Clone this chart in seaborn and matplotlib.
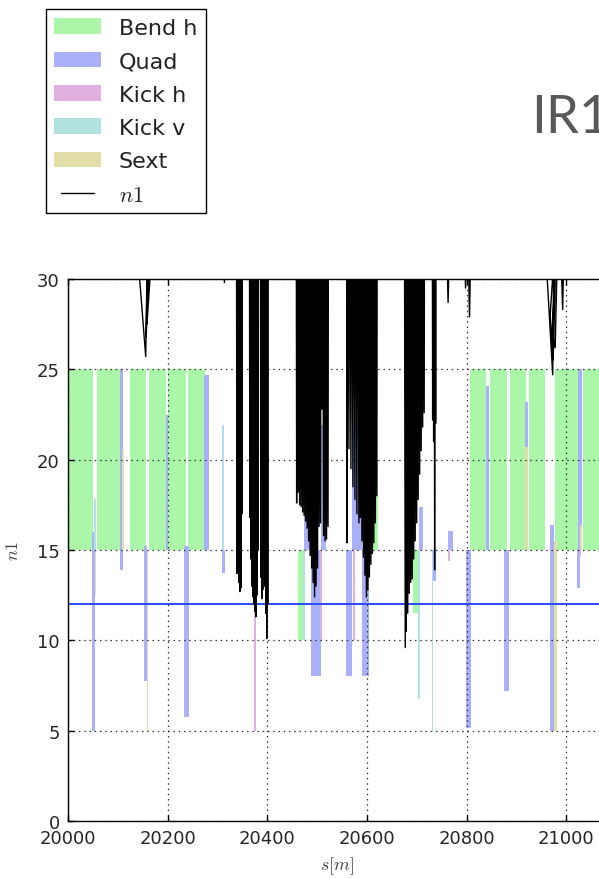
import matplotlib
matplotlib.use("Agg")
import matplotlib.pyplot as plt
import seaborn as sns
import pandas as pd

# ---------------------------------------------------------------- element data
# Each element type: start s [m], end s [m], lower and upper n1 extent.
bend_s0 = [20000, 20058, 20124, 20162, 20201, 20241, 20378, 20461, 20612, 20692,
           20806, 20847, 20887, 20925, 20977, 21033]
bend_s1 = [20050, 20104, 20156, 20197, 20237, 20275, 20384, 20471, 20622, 20702,
           20840, 20881, 20919, 20957, 21027, 21095]
bend_lo = [15, 15, 15, 15, 15, 15, 15, 10, 15, 11.5, 15, 15, 15, 15, 15, 15]
bend_hi = [25, 25, 25, 25, 25, 25, 18.5, 15, 20, 15, 25, 25, 25, 25, 25, 25]

quad_s0 = [19996, 20048, 20104, 20153, 20196, 20233, 20273, 20310, 20343, 20474,
           20488, 20508, 20558, 20570, 20591, 20704, 20730, 20762, 20798, 20840,
           20876, 20918, 20968, 21024, 21022]
quad_s1 = [20002, 20055, 20110, 20158, 20200, 20242, 20283, 20316, 20347, 20487,
           20508, 20518, 20570, 20590, 20604, 20712, 20738, 20772, 20808, 20846,
           20886, 20924, 20976, 21032, 21027]
quad_lo = [13.4, 5, 13.9, 7.75, 15, 5.75, 15, 13.7, 15, 15,
           8, 15, 8, 15, 8, 15, 13.3, 15, 5.15, 15,
           7.2, 15, 5, 15, 12.9]
quad_hi = [25, 16, 25, 15.2, 22.5, 15.2, 24.7, 15, 16.5, 17.3,
           15, 21.9, 15, 21.9, 15, 17.4, 15, 16.05, 15, 24.1,
           15, 23.2, 16.4, 25, 15]

kickh_s0 = [20374, 20505, 20573, 20762, 21026]
kickh_s1 = [20378, 20509, 20577, 20766, 21030]
kickh_lo = [5, 10, 10, 14.4, 14.6]
kickh_hi = [15, 15, 15, 15, 15]

kickv_s0 = [20052, 20309, 20472, 20702, 20730]
kickv_s1 = [20056, 20313, 20476, 20707, 20733]
kickv_lo = [15, 15, 10, 6.75, 5]
kickv_hi = [17.8, 21.9, 15, 15, 15]

sext_s0 = [20001, 20054, 20108, 20158, 20918, 20976, 21027]
sext_s1 = [20003, 20057, 20112, 20161, 20923, 20981, 21031]
sext_lo = [13.5, 12.5, 15, 5, 15, 5, 15]
sext_hi = [16.5, 15, 20.6, 15, 20.7, 15.5, 16.4]

# ------------------------------------------------------------- n1 along s
n1_s = [
    19990,
    # dip near 20156
    20141, 20156, 20159, 20157, 20162, 20158.5, 20167,
    # small notch
    20312, 20314, 20316,
    # triplet left side
    20338, 20339, 20340, 20341, 20342, 20343, 20344, 20345, 20346, 20347, 20348, 20349, 20350,
    20364, 20365, 20366, 20367, 20368, 20369, 20370, 20371, 20372, 20373, 20374, 20375,
    20376, 20377, 20378, 20379, 20380, 20381, 20382,
    20386, 20387, 20388, 20389, 20390, 20391, 20392, 20393, 20394, 20395, 20396, 20397,
    20398, 20399, 20400, 20401, 20402,
    # first IP-side cluster
    20458, 20459, 20460, 20462, 20463, 20465, 20466, 20468, 20469, 20471, 20472, 20474,
    20475, 20477, 20478, 20480, 20481, 20483, 20484, 20486, 20487, 20489, 20490, 20492,
    20493, 20495, 20496, 20498, 20499, 20501, 20502, 20504, 20505, 20507, 20508, 20510,
    20511, 20513, 20514, 20516, 20517, 20519, 20520, 20522, 20523,
    # second cluster
    20559, 20560, 20561, 20564, 20565, 20568, 20569, 20572, 20573, 20576, 20577, 20580,
    20581, 20584, 20585, 20587, 20588, 20590, 20591, 20593, 20594, 20596, 20597, 20599,
    20600, 20602, 20603, 20605, 20606, 20608, 20609, 20611, 20612, 20614, 20615, 20617,
    20618, 20620, 20621,
    # third cluster
    20675, 20677, 20678, 20679, 20680, 20682, 20683, 20685, 20686, 20688, 20689, 20691,
    20692, 20694, 20695, 20697, 20698, 20700, 20701, 20703, 20704, 20706, 20707, 20709,
    20710, 20712, 20713, 20715, 20716,
    20731, 20732, 20733, 20734, 20735, 20736, 20737, 20738, 20739,
    # isolated notches
    20761, 20763, 20765,
    20797, 20798, 20800, 20804, 20806, 20808,
    # dip near 20973
    20960, 20973, 20975, 20968, 20974, 20979, 20972, 20978, 20982,
    20990, 20993, 20995,
    21100,
]
n1_v = [
    40,
    31, 25.7, 31, 26.8, 31, 27.5, 31,
    31, 29.8, 31,
    40, 13.7, 40, 14.0, 40, 13.2, 40, 12.7, 40, 12.9, 40, 17.0, 40,
    40, 16.8, 40, 14.5, 40, 13.0, 40, 12.4, 40, 12.0, 40, 11.6,
    40, 11.3, 40, 12.5, 40, 15.0, 40,
    40, 13.5, 40, 12.3, 40, 12.8, 40, 14.6, 40, 13.0, 40, 11.5,
    40, 10.1, 40, 12.0, 40,
    40, 17.6, 40, 18.2, 40, 17.5, 40, 17.4, 40, 17.1, 40, 16.9,
    40, 16.6, 40, 16.2, 40, 15.5, 40, 14.7, 40, 14.0, 40, 13.2,
    40, 12.4, 40, 13.0, 40, 14.0, 40, 16.3, 40, 16.5, 40, 22.8,
    40, 15.8, 40, 15.5, 40, 15.6, 40, 16.3, 40,
    40, 15.4, 40, 20.6, 40, 19.5, 40, 18.5, 40, 17.8, 40, 17.0,
    40, 16.5, 40, 16.8, 40, 15.5, 40, 14.6, 40, 13.6, 40, 12.4,
    40, 12.8, 40, 13.5, 40, 14.2, 40, 14.8, 40, 15.4, 40, 16.5,
    40, 18.0, 40,
    40, 9.6, 40, 10.5, 40, 11.5, 40, 12.6, 40, 13.2, 40, 13.4,
    40, 14.5, 40, 15.5, 40, 16.5, 40, 17.8, 40, 19.2, 40, 20.5,
    40, 21.8, 40, 22.6, 40,
    40, 22.2, 40, 21.0, 40, 13.9, 40, 22.0, 40,
    31, 28.7, 31,
    31, 29.5, 31, 31, 27.9, 31,
    31, 24.7, 31, 28.0, 25.5, 31, 27.0, 26.2, 31,
    31, 28.3, 31,
    40,
]

n1_limit = 12.0
title_text = "IR1"

# ------------------------------------------------------------------ styling
sns.set_style("ticks")
plt.rcParams.update({
    "font.family": ["DejaVu Sans"],
    "mathtext.fontset": "cm",
    "xtick.direction": "in",
    "ytick.direction": "in",
    "xtick.top": True,
    "ytick.right": True,
    "axes.edgecolor": "black",
    "axes.linewidth": 1.0,
    "axes.axisbelow": "line",
})

fig = plt.figure(figsize=(5.99, 8.79), dpi=100)
ax = fig.add_axes([68 / 599, 57 / 879, 538 / 599, 542 / 879])

colors = {
    "Bend h": "#aaf7aa",
    "Quad": "#aab0fa",
    "Kick h": "#e2b0e0",
    "Kick v": "#b0e2e0",
    "Sext": "#e2deaa",
}

groups = [
    ("Bend h", bend_s0, bend_s1, bend_lo, bend_hi),
    ("Quad", quad_s0, quad_s1, quad_lo, quad_hi),
    ("Kick h", kickh_s0, kickh_s1, kickh_lo, kickh_hi),
    ("Kick v", kickv_s0, kickv_s1, kickv_lo, kickv_hi),
    ("Sext", sext_s0, sext_s1, sext_lo, sext_hi),
]

handles = []
for name, s0, s1, lo, hi in groups:
    df = pd.DataFrame({"s0": s0, "s1": s1, "lo": lo, "hi": hi})
    bars = ax.bar(df["s0"], df["hi"] - df["lo"], width=df["s1"] - df["s0"],
                  bottom=df["lo"], align="edge", color=colors[name],
                  linewidth=0, label=name, zorder=1)
    handles.append(bars)

ax.axhline(n1_limit, color="#2a4bff", lw=1.4, zorder=2)

n1_df = pd.DataFrame({"s": n1_s, "n1": n1_v})
sns.lineplot(data=n1_df, x="s", y="n1", sort=False, estimator=None,
             color="black", lw=1.0, ax=ax, label="$n1$", zorder=3)
line_handle = ax.get_lines()[-1]
ax.get_legend().remove()

ax.set_xlim(20000, 21080)
ax.set_ylim(0, 30)
ax.set_xticks(range(20000, 21001, 200))
ax.set_yticks(range(0, 31, 5))
ax.tick_params(labelsize=13, pad=6, length=4, width=1, color="black")
ax.grid(True, color="#333333", linestyle=(0, (1.2, 3.0)), linewidth=0.9)
ax.set_xlabel("$s[m]$", fontsize=13, color="#444444")
ax.set_ylabel("$n1$", fontsize=13, color="#444444")
ax.xaxis.set_label_coords(0.5, -0.062)
ax.yaxis.set_label_coords(-0.085, 0.5)
for sp in ax.spines.values():
    sp.set_visible(True)
    sp.set_color("black")

leg = fig.legend(handles + [line_handle],
                 ["Bend h", "Quad", "Kick h", "Kick v", "Sext", "$n1$"],
                 loc="upper left", bbox_to_anchor=(45.5 / 599, 1 - 10 / 879),
                 bbox_transform=fig.transFigure, borderaxespad=0,
                 fontsize=16, handlelength=2.1, labelspacing=0.6, numpoints=2,
                 fancybox=False, framealpha=1, edgecolor="black")
leg.get_frame().set_linewidth(1.0)
for t in leg.get_texts():
    t.set_color("#222222")

fig.text(531 / 599, 1 - 133 / 879, title_text, fontsize=38, color="#595959",
         family=["Lato", "DejaVu Sans"], ha="left", va="baseline")

fig.savefig("out.png", dpi=100)
